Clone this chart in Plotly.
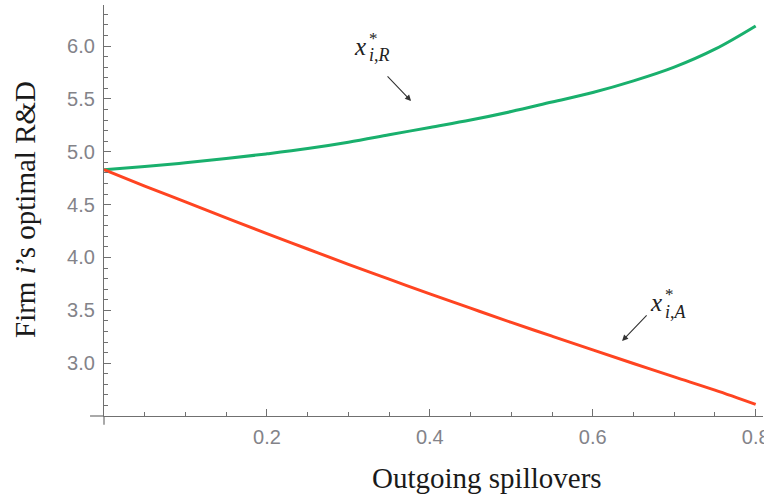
import plotly.graph_objects as go

# Data
spill = [0.0, 0.05, 0.1, 0.15, 0.2, 0.25, 0.3, 0.35, 0.4, 0.45, 0.5, 0.55, 0.6, 0.65, 0.7, 0.75, 0.8]
x_R = [4.83, 4.86, 4.895, 4.935, 4.98, 5.03, 5.09, 5.16, 5.23, 5.30, 5.38, 5.47, 5.56, 5.67, 5.80, 5.97, 6.19]
x_A = [4.83, 4.675, 4.525, 4.375, 4.225, 4.08, 3.935, 3.795, 3.655, 3.52, 3.385, 3.255, 3.125, 2.997, 2.87, 2.745, 2.61]

x_ticks = [0.2, 0.4, 0.6, 0.8]
x_ticktext = ["0.2", "0.4", "0.6", "0.8"]
y_ticks = [3.0, 3.5, 4.0, 4.5, 5.0, 5.5, 6.0]
y_ticktext = ["3.0", "3.5", "4.0", "4.5", "5.0", "5.5", "6.0"]

GREEN = "#19b06d"
RED = "#ff4421"
AXC = "#707070"
TICKC = "#838389"

fig = go.Figure()
fig.add_trace(go.Scatter(x=spill, y=x_R, mode="lines", line=dict(color=GREEN, width=3, shape="spline"), showlegend=False))
fig.add_trace(go.Scatter(x=spill, y=x_A, mode="lines", line=dict(color=RED, width=3, shape="spline"), showlegend=False))

XR = [0, 0.809]
YR = [2.5, 6.388]

fig.update_layout(
    template="none",
    width=764, height=497,
    margin=dict(l=104, r=1, t=5, b=81),
    plot_bgcolor="white", paper_bgcolor="white",
    xaxis=dict(range=XR, showgrid=False, zeroline=False, showline=True, linecolor=AXC, linewidth=1.2,
               automargin=False, ticklabeloverflow="allow",
               ticks="inside", ticklen=7, tickcolor=AXC, tickwidth=1.2,
               tickvals=x_ticks, ticktext=x_ticktext,
               tickfont=dict(family="Liberation Sans, Arial", size=20, color=TICKC),
               ticklabelstandoff=3,
               minor=dict(ticks="inside", ticklen=4, tickcolor=AXC, tickwidth=1.2, dtick=0.05, tick0=0)),
    yaxis=dict(range=YR, showgrid=False, zeroline=False, showline=True, linecolor=AXC, linewidth=1.2,
               automargin=False, ticklabeloverflow="allow",
               ticks="inside", ticklen=7, tickcolor=AXC, tickwidth=1.2,
               tickvals=y_ticks, ticktext=y_ticktext,
               tickfont=dict(family="Liberation Sans, Arial", size=20, color=TICKC),
               ticklabelstandoff=4,
               minor=dict(ticks="inside", ticklen=4, tickcolor=AXC, tickwidth=1.2, dtick=0.1, tick0=2.5)),
)

# Axis extensions beyond origin (Mathematica style)
fig.add_shape(type="line", xref="paper", yref="paper", x0=-0.0212, x1=0, y0=0, y1=0,
              line=dict(color=AXC, width=1.2))
fig.add_shape(type="line", xref="paper", yref="paper", x0=0, x1=0, y0=-0.021, y1=0,
              line=dict(color=AXC, width=1.2))

SERIF = "Liberation Serif, Times New Roman, serif"

# Axis titles
fig.add_annotation(text="Outgoing spillovers", xref="paper", yref="paper",
                   x=(487 - 104) / 659, y=-(478 - 416) / 411, xanchor="center", yanchor="middle",
                   showarrow=False, font=dict(family=SERIF, size=29, color="#1a1a1a"))
fig.add_annotation(text="Firm <i>i</i>’s optimal R&amp;D", xref="paper", yref="paper",
                   x=-(104 - 25) / 659, y=(416 - 210) / 411, xanchor="center", yanchor="middle",
                   textangle=-90, showarrow=False, font=dict(family=SERIF, size=29, color="#1a1a1a"))

# Curve labels x*_{i,R}, x*_{i,A}
def label(xd, yd, sub):
    fig.add_annotation(text="<i>x</i>", x=xd, y=yd, xanchor="right", yanchor="middle", showarrow=False,
                       font=dict(family=SERIF, size=25, color="#222"))
    fig.add_annotation(text="*", x=xd, y=yd, xanchor="left", yanchor="middle", yshift=8, xshift=-1,
                       showarrow=False, font=dict(family=SERIF, size=17, color="#222"))
    fig.add_annotation(text=sub, x=xd, y=yd, xanchor="left", yanchor="middle", yshift=-9, xshift=-1,
                       showarrow=False, font=dict(family=SERIF, size=18, color="#222"))

label(0.324, 6.00, "<i>i</i>,<i>R</i>")
label(0.688, 3.57, "<i>i</i>,<i>A</i>")

# Arrows
fig.add_annotation(text="", x=0.377, y=5.48, ax=-25, ay=-26, showarrow=True,
                   arrowhead=2, arrowsize=1.1, arrowwidth=1.1, arrowcolor="#333")
fig.add_annotation(text="", x=0.636, y=3.21, ax=26, ay=-27, showarrow=True,
                   arrowhead=2, arrowsize=1.1, arrowwidth=1.1, arrowcolor="#333")

fig.write_html("out.html", config={"displayModeBar": False},
               post_script="document.body.style.margin='0';document.body.style.overflow='hidden';")
